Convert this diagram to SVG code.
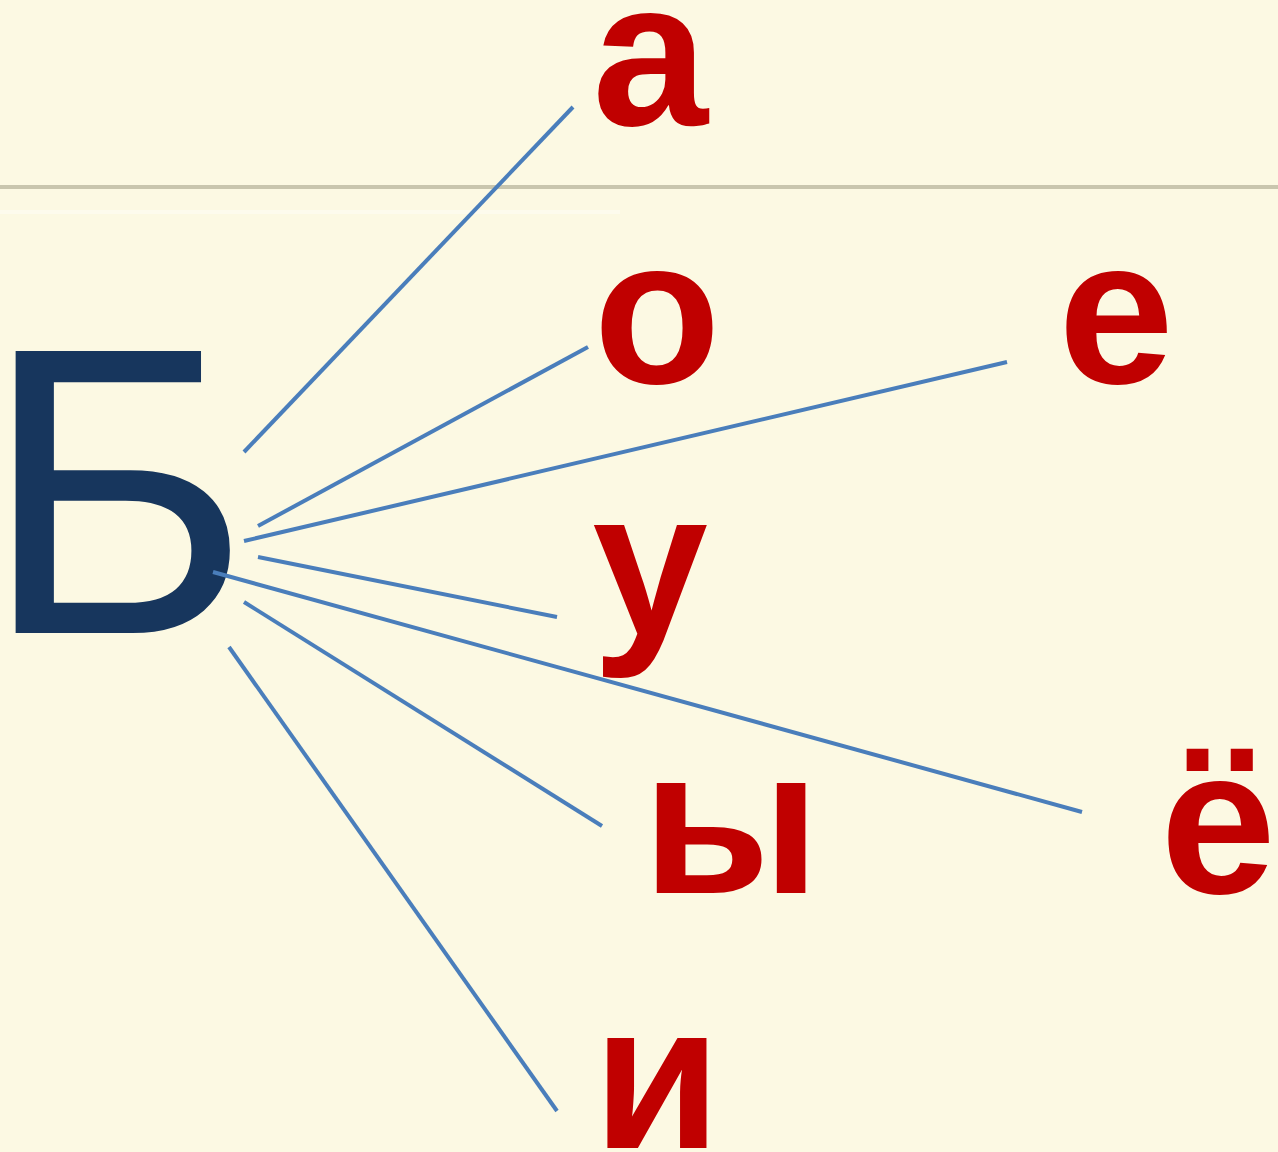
<svg xmlns="http://www.w3.org/2000/svg" width="1278" height="1152" viewBox="0 0 1278 1152">
<style>
.v{font-family:"Liberation Sans",Arial,sans-serif;font-weight:bold;font-size:208px;fill:#C00000;text-anchor:middle}
.c{stroke:#4A7EBB;stroke-width:4;fill:none}
</style>
<rect width="1278" height="1152" fill="#FCF9E3"/>
<line x1="0" y1="187" x2="1278" y2="187" stroke="#C9C6AE" stroke-width="4"/>
<line x1="0" y1="212" x2="620" y2="212" stroke="#FFFFFF" stroke-width="4" stroke-opacity="0.35"/>
<g id="node-B"><text x="-18" y="633" font-family="'Liberation Sans',Arial,sans-serif" font-size="410" fill="#17365D">Б</text></g>
<g id="node-a"><text class="v" x="650" y="125">а</text></g>
<g id="node-o"><text class="v" x="657" y="383">о</text></g>
<g id="node-e"><text class="v" x="1116" y="383">е</text></g>
<g id="node-u"><text class="v" x="650" y="635">у</text></g>
<g id="node-yo"><text class="v" x="1218" y="893">ё</text></g>
<g id="node-y"><text class="v" x="731" y="893">ы</text></g>
<g id="node-i"><text class="v" x="657" y="1148">и</text></g>
<g id="connectors" class="c">
<line x1="244" y1="452" x2="573" y2="107"/>
<line x1="258" y1="526" x2="588" y2="347"/>
<line x1="244" y1="541" x2="1007" y2="362"/>
<line x1="258" y1="557" x2="557" y2="617"/>
<line x1="213" y1="572" x2="1082" y2="812"/>
<line x1="244" y1="602" x2="602" y2="826"/>
<line x1="229" y1="647" x2="557" y2="1111"/>
</g>
</svg>
